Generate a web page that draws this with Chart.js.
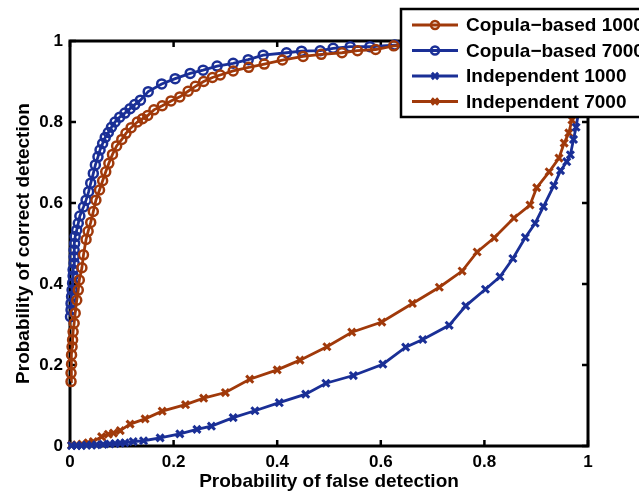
<!DOCTYPE html>
<html>
<head>
<meta charset="utf-8">
<script src="https://cdn.jsdelivr.net/npm/chart.js@4"></script>
<style>
body { margin: 0; background: #fff; }
#wrap { width: 639px; height: 494px; }
</style>
</head>
<body>
<div id="wrap"><canvas id="roc" width="639" height="494"></canvas></div>
<script>
// valores
const xTicks = [0, 0.2, 0.4, 0.6, 0.8, 1];
const yTicks = [0, 0.2, 0.4, 0.6, 0.8, 1];
const xTickLabels = ['0', '0.2', '0.4', '0.6', '0.8', '1'];
const yTickLabels = ['0', '0.2', '0.4', '0.6', '0.8', '1'];

const seriesLabels = ['Copula\u2212based 1000', 'Copula\u2212based 7000', 'Independent 1000', 'Independent 7000'];

const copula1000X = [0.002,0.002,0.003,0.003,0.004,0.005,0.006,0.008,0.010,0.013,0.016,0.018,0.023,0.026,0.031,0.035,0.040,0.045,0.050,0.057,0.063,0.069,0.075,0.082,0.090,0.100,0.108,0.118,0.130,0.140,0.150,0.162,0.178,0.195,0.212,0.228,0.242,0.258,0.275,0.290,0.315,0.345,0.375,0.410,0.450,0.485,0.525,0.555,0.590,0.625,0.680,0.740,0.800,0.860,0.920,0.970,1.0];
const copula1000Y = [0.159,0.180,0.202,0.225,0.245,0.262,0.282,0.303,0.328,0.360,0.385,0.410,0.440,0.472,0.510,0.530,0.552,0.579,0.607,0.632,0.655,0.677,0.698,0.720,0.741,0.757,0.772,0.786,0.800,0.808,0.816,0.830,0.840,0.852,0.862,0.876,0.888,0.900,0.910,0.916,0.926,0.935,0.943,0.953,0.962,0.967,0.971,0.976,0.979,0.988,0.990,0.993,0.995,0.997,0.998,0.999,1.0];

const copula7000X = [0.001,0.002,0.002,0.003,0.004,0.005,0.006,0.006,0.008,0.008,0.008,0.009,0.010,0.013,0.016,0.019,0.026,0.031,0.036,0.040,0.045,0.049,0.054,0.058,0.063,0.068,0.074,0.080,0.087,0.096,0.106,0.116,0.125,0.136,0.151,0.177,0.203,0.232,0.257,0.284,0.315,0.344,0.373,0.418,0.447,0.483,0.508,0.541,0.579,0.627,0.680,0.740,0.800,0.860,0.920,0.970,1.0];
const copula7000Y = [0.319,0.336,0.352,0.369,0.385,0.402,0.420,0.435,0.451,0.467,0.484,0.500,0.517,0.533,0.550,0.568,0.590,0.607,0.628,0.649,0.673,0.694,0.714,0.731,0.747,0.762,0.774,0.787,0.800,0.812,0.822,0.833,0.843,0.854,0.875,0.894,0.907,0.920,0.928,0.938,0.945,0.954,0.965,0.971,0.975,0.976,0.982,0.986,0.986,0.990,0.992,0.994,0.996,0.997,0.998,0.999,1.0];

const indep1000X = [0.003,0.013,0.022,0.032,0.042,0.051,0.064,0.077,0.087,0.097,0.106,0.122,0.142,0.174,0.212,0.245,0.273,0.315,0.357,0.404,0.455,0.494,0.547,0.604,0.648,0.681,0.732,0.764,0.802,0.830,0.855,0.879,0.898,0.914,0.934,0.947,0.959,0.966,0.972,0.977,0.985,0.993,1.0];
const indep1000Y = [0.001,0.001,0.001,0.002,0.002,0.003,0.004,0.005,0.006,0.007,0.008,0.011,0.013,0.020,0.030,0.041,0.049,0.070,0.087,0.107,0.128,0.155,0.174,0.202,0.244,0.263,0.298,0.346,0.387,0.418,0.463,0.515,0.550,0.591,0.643,0.680,0.702,0.719,0.757,0.787,0.850,0.930,1.0];

const indep7000X = [0.003,0.013,0.023,0.035,0.045,0.061,0.074,0.084,0.097,0.116,0.145,0.178,0.223,0.258,0.300,0.347,0.400,0.444,0.496,0.544,0.602,0.661,0.713,0.757,0.786,0.819,0.857,0.888,0.901,0.925,0.944,0.954,0.963,0.969,0.975,0.985,1.0];
const indep7000Y = [0.002,0.003,0.005,0.008,0.011,0.023,0.029,0.032,0.038,0.054,0.067,0.086,0.102,0.118,0.132,0.165,0.188,0.212,0.245,0.281,0.306,0.352,0.392,0.432,0.479,0.514,0.563,0.595,0.638,0.677,0.711,0.748,0.773,0.805,0.830,0.900,1.0];

const ORANGE = '#a0390a';
const BLUE = '#1a2f96';
const FONT = 'Liberation Sans, Arial, Helvetica, sans-serif';

function toPoints(xs, ys) {
    return xs.map((x, i) => ({ x: x, y: ys[i] }));
}

function makeDataset(label, xs, ys, color, style) {
    const isCircle = style === 'circle';
    return {
        label: label,
        data: toPoints(xs, ys),
        showLine: true,
        borderColor: color,
        borderWidth: 2.8,
        pointStyle: style,
        pointRadius: isCircle ? 4.5 : 5,
        pointBorderWidth: isCircle ? 2.5 : 3,
        pointBorderColor: color,
        pointBackgroundColor: 'rgba(0,0,0,0)',
        clip: false
    };
}

// moldura e marcas de escala para dentro (estilo MATLAB)
const frameTicks = {
    id: 'frameTicks',
    beforeDatasetsDraw(chart) {
        const { ctx, chartArea: a, scales } = chart;
        ctx.save();
        ctx.strokeStyle = '#000';
        ctx.lineWidth = 3;
        ctx.strokeRect(a.left, a.top, a.right - a.left, a.bottom - a.top);
        ctx.lineWidth = 2.5;
        ctx.beginPath();
        xTicks.forEach(v => {
            const px = scales.x.getPixelForValue(v);
            ctx.moveTo(px, a.bottom); ctx.lineTo(px, a.bottom - 6);
            ctx.moveTo(px, a.top); ctx.lineTo(px, a.top + 6);
        });
        yTicks.forEach(v => {
            const py = scales.y.getPixelForValue(v);
            ctx.moveTo(a.left, py); ctx.lineTo(a.left + 6, py);
            ctx.moveTo(a.right, py); ctx.lineTo(a.right - 6, py);
        });
        ctx.stroke();
        ctx.restore();
    }
};

// legenda em caixa por cima do gráfico
const boxLegend = {
    id: 'boxLegend',
    afterDraw(chart) {
        const ctx = chart.ctx;
        const x0 = 401, y0 = 9, w = 260, h = 108;
        ctx.save();
        ctx.fillStyle = '#fff';
        ctx.fillRect(x0, y0, w, h);
        ctx.strokeStyle = '#000';
        ctx.lineWidth = 2.5;
        ctx.strokeRect(x0, y0, w, h);
        chart.data.datasets.forEach((ds, i) => {
            const yy = y0 + 16 + i * 25.5;
            ctx.strokeStyle = ds.borderColor;
            ctx.lineWidth = ds.borderWidth;
            ctx.beginPath();
            ctx.moveTo(412, yy);
            ctx.lineTo(458, yy);
            ctx.stroke();
            ctx.lineWidth = ds.pointBorderWidth;
            ctx.fillStyle = 'rgba(0,0,0,0)';
            Chart.helpers.drawPoint(ctx, {
                pointStyle: ds.pointStyle,
                radius: ds.pointRadius - 0.5,
                rotation: 0,
                borderWidth: ds.pointBorderWidth
            }, 435, yy);
            ctx.fillStyle = '#000';
            ctx.font = 'bold 19px ' + FONT;
            ctx.textBaseline = 'middle';
            ctx.textAlign = 'left';
            ctx.fillText(ds.label, 466, yy + 1);
        });
        ctx.restore();
    }
};

const tickFont = { family: FONT, size: 17, weight: 'bold' };
const titleFont = { family: FONT, size: 19, weight: 'bold' };

new Chart(document.getElementById('roc'), {
    type: 'scatter',
    data: {
        datasets: [
            makeDataset(seriesLabels[0], copula1000X, copula1000Y, ORANGE, 'circle'),
            makeDataset(seriesLabels[1], copula7000X, copula7000Y, BLUE, 'circle'),
            makeDataset(seriesLabels[2], indep1000X, indep1000Y, BLUE, 'crossRot'),
            makeDataset(seriesLabels[3], indep7000X, indep7000Y, ORANGE, 'crossRot')
        ]
    },
    options: {
        responsive: false,
        animation: false,
        layout: { padding: { top: 41, right: 51, left: 0, bottom: 0 } },
        plugins: {
            legend: { display: false },
            tooltip: { enabled: false }
        },
        scales: {
            x: {
                type: 'linear',
                min: 0,
                max: 1,
                grid: { display: false, drawTicks: false, tickLength: 0 },
                border: { display: false },
                afterFit(s) { s.height = 48; },
                afterBuildTicks(s) { s.ticks = xTicks.map(v => ({ value: v })); },
                ticks: {
                    padding: 6, font: tickFont, color: '#000', maxRotation: 0, autoSkip: false,
                    callback: (v, i) => xTickLabels[i]
                },
                title: { display: true, text: 'Probability of false detection', font: titleFont, color: '#000', padding: { top: 0, bottom: 1 } }
            },
            y: {
                type: 'linear',
                min: 0,
                max: 1,
                grid: { display: false, drawTicks: false, tickLength: 0 },
                border: { display: false },
                afterFit(s) { s.width = 70; },
                afterBuildTicks(s) { s.ticks = yTicks.map(v => ({ value: v })); },
                ticks: {
                    padding: 7, font: tickFont, color: '#000', autoSkip: false,
                    callback: (v, i) => yTickLabels[i]
                },
                title: { display: true, text: 'Probability of correct detection', font: titleFont, color: '#000', padding: { top: 12, bottom: 0 } }
            }
        }
    },
    plugins: [frameTicks, boxLegend]
});
</script>
</body>
</html>
